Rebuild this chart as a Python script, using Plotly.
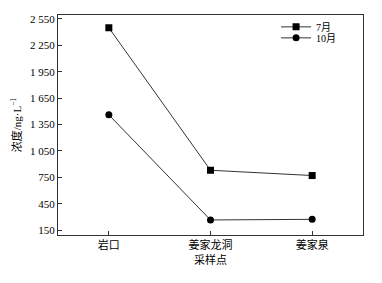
import plotly.graph_objects as go

sites = ["岩口", "姜家龙洞", "姜家泉"]
jul = [2450, 830, 770]
octo = [1460, 265, 272]
yticks = [150, 450, 750, 1050, 1350, 1650, 1950, 2250, 2550]
yticklabels = ["150", "450", "750", "1 050", "1 350", "1 650", "1 950", "2 250", "2 550"]

font_fam = "Liberation Serif, Noto Sans CJK SC, serif"
lc = "#333333"

fig = go.Figure()
fig.add_trace(go.Scatter(x=sites, y=jul, name="7月", mode="lines+markers",
                         line=dict(color="#333333", width=1),
                         marker=dict(symbol="square", size=7, color="black"),
                         legend="legend"))
fig.add_trace(go.Scatter(x=sites, y=octo, name="10月", mode="lines+markers",
                         line=dict(color="#333333", width=1),
                         marker=dict(symbol="circle", size=7, color="black"),
                         legend="legend2"))

leg_common = dict(xanchor="left", yanchor="top", bgcolor="rgba(0,0,0,0)",
                  font=dict(size=10, family=font_fam))

fig.update_layout(
    width=382, height=283,
    margin=dict(l=58, r=19, t=12, b=48),
    paper_bgcolor="white", plot_bgcolor="white",
    font=dict(family=font_fam, size=11, color="black"),
    showlegend=True,
    legend=dict(x=0.715, y=1.012, **leg_common),
    legend2=dict(x=0.715, y=0.962, **leg_common),
    xaxis=dict(range=[-0.5, 2.5], showline=True, linecolor=lc, linewidth=1,
               mirror=True, ticks="inside", ticklen=4, tickcolor=lc,
               showgrid=False, zeroline=False,
               title=dict(text="采样点", standoff=6, font=dict(size=11))),
    yaxis=dict(range=[94, 2595], showline=True, linecolor=lc, linewidth=1,
               mirror=True, ticks="inside", ticklen=4, tickcolor=lc,
               tickvals=yticks, ticktext=yticklabels,
               showgrid=False, zeroline=False,
               title=dict(text="浓度/ng·L<sup>−1</sup>", standoff=6, font=dict(size=11))),
)

fig.write_html("out.html")
